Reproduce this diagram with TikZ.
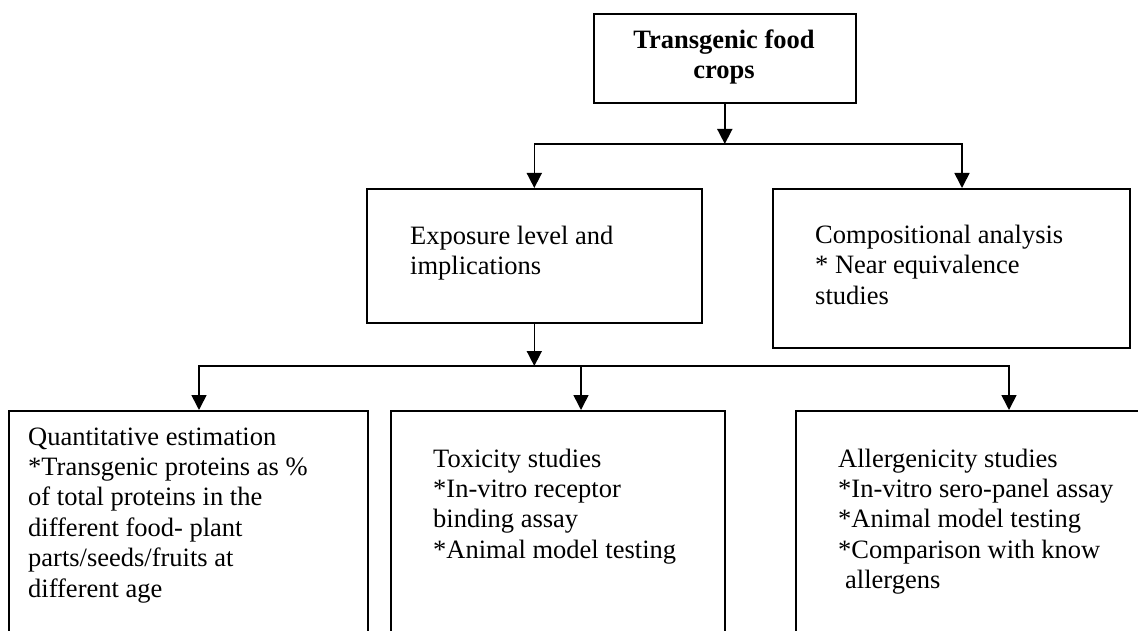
\documentclass[tikz,border=0pt]{standalone}
\usepackage{fontspec}
\setmainfont{Liberation Serif}
\usetikzlibrary{arrows.meta}
\begin{document}
\begin{tikzpicture}[x=1pt,y=-1pt,
  box/.style={draw, line width=1.6pt, inner sep=0pt, anchor=north west},
  txt/.style={anchor=base west, align=left, inner sep=0pt, font=\fontsize{26.5}{30.4}\selectfont},
  ttl/.style={anchor=base, align=center, inner sep=0pt, font=\fontsize{26.5}{30}\selectfont\bfseries},
  arr/.style={line width=1.6pt, -{Triangle[length=15pt,width=15pt]}}]
\useasboundingbox (0,0) rectangle (1138,631);
\clip (0,0) rectangle (1138,631);
% boxes
\node[box, minimum width=262pt, minimum height=89pt] (top) at (593,13) {};
\node[box, minimum width=335pt, minimum height=134pt] (exp) at (366,188) {};
\node[box, minimum width=357pt, minimum height=159pt] (comp) at (772,188) {};
\node[box, minimum width=359pt, minimum height=300pt] (quant) at (8,410) {};
\node[box, minimum width=334pt, minimum height=300pt] (tox) at (390,410) {};
\node[box, minimum width=400pt, minimum height=300pt] (all) at (795,410) {};
% texts (anchor = baseline of the last line)
\node[ttl] (toptxt) at (724,79) {Transgenic food\\crops};
\node[txt] (exptxt) at (410,274.6) {Exposure level and\\implications};
\node[txt] (comptxt) at (815,304) {Compositional analysis\\* Near equivalence\\studies};
\node[txt] (quanttxt) at (28,597) {Quantitative estimation\\*Transgenic proteins as \%\\of total proteins in the\\different food- plant\\parts/seeds/fruits at\\different age};
\node[txt] (toxtxt) at (433,558.2) {Toxicity studies\\*In-vitro receptor\\binding assay\\*Animal model testing};
\node[txt] (alltxt) at (838,588.6) {Allergenicity studies\\*In-vitro sero-panel assay\\*Animal model testing\\*Comparison with know\\\hspace*{7pt}allergens};
% junctions and entry points
\coordinate (j1) at (724,144);
\coordinate (compIn) at (962,188);
\coordinate (j2) at (534,366);
\coordinate (in1) at (199,410);
\coordinate (in2) at (581,410);
\coordinate (in3) at (1009,410);
% connectors
\draw[arr] (top.south) -- (top.south |- j1);
\draw[arr] (j1) -| (exp.north);
\draw[arr] (j1) -| (compIn);
\draw[arr] (exp.south) -- (exp.south |- j2);
\draw[arr] (j2) -| (in1);
\draw[arr] (j2) -| (in2);
\draw[arr] (j2) -| (in3);
\end{tikzpicture}
\end{document}
